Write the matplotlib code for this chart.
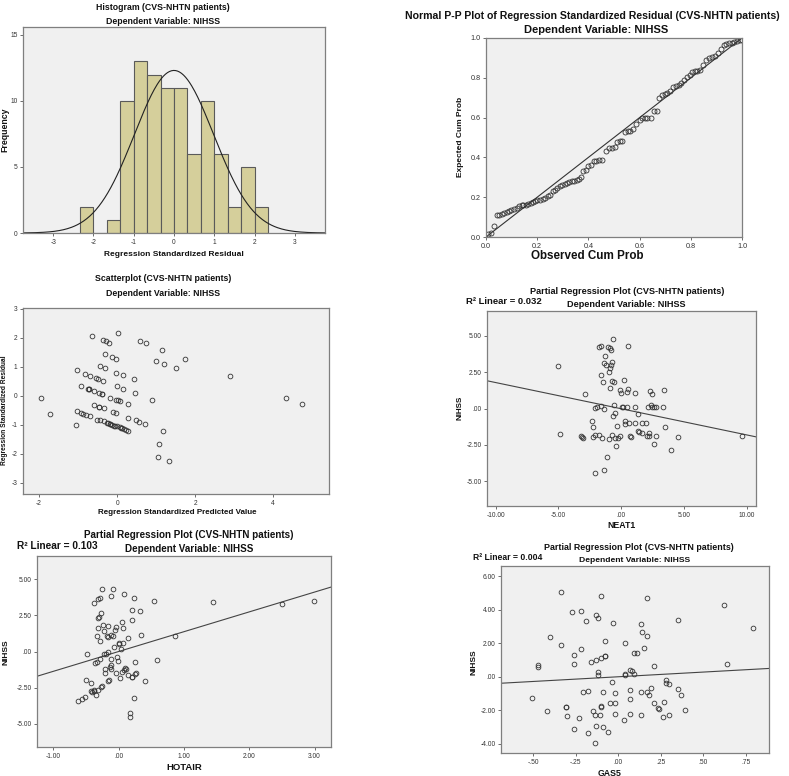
import numpy as np
import matplotlib
matplotlib.use('Agg')
import matplotlib.pyplot as plt

plt.rcParams['font.family'] = ['Liberation Sans', 'DejaVu Sans']
plt.rcParams['axes.unicode_minus'] = False

W, H = 789, 776

#  %%----------------------------------------- data
# histogram of standardized residuals
hist_edges = np.arange(-7, 8) / 3.0
hist_counts = [2, 0, 1, 10, 13, 12, 11, 11, 6, 10, 6, 2, 5, 2]
hist_mean, hist_sd, hist_n = 0.0, 0.983, 91

# normal P-P plot
pp_obs = [0.008, 0.018, 0.031, 0.042, 0.052, 0.061, 0.071, 0.081, 0.090, 0.099,
          0.110, 0.120, 0.129, 0.139, 0.146, 0.156, 0.165, 0.175, 0.184, 0.193,
          0.201, 0.210, 0.221, 0.230, 0.241, 0.250, 0.260, 0.269, 0.278, 0.288,
          0.298, 0.307, 0.316, 0.325, 0.335, 0.345, 0.354, 0.363, 0.371, 0.380,
          0.390, 0.400, 0.410, 0.421, 0.431, 0.442, 0.452, 0.468, 0.480, 0.492,
          0.502, 0.512, 0.522, 0.533, 0.544, 0.554, 0.563, 0.574, 0.587, 0.600,
          0.609, 0.620, 0.630, 0.643, 0.655, 0.668, 0.677, 0.688, 0.698, 0.708,
          0.720, 0.731, 0.742, 0.753, 0.763, 0.774, 0.784, 0.796, 0.805, 0.816,
          0.826, 0.837, 0.848, 0.861, 0.872, 0.882, 0.894, 0.907, 0.918, 0.928,
          0.939, 0.949, 0.959, 0.970, 0.980, 0.991, 0.999]
pp_exp = [0.015, 0.022, 0.054, 0.112, 0.112, 0.116, 0.121, 0.126, 0.129, 0.134,
          0.139, 0.146, 0.154, 0.159, 0.159, 0.162, 0.166, 0.171, 0.176, 0.179,
          0.184, 0.188, 0.191, 0.196, 0.204, 0.213, 0.229, 0.236, 0.245, 0.255,
          0.263, 0.268, 0.271, 0.275, 0.280, 0.280, 0.288, 0.293, 0.300, 0.333,
          0.335, 0.358, 0.363, 0.380, 0.384, 0.387, 0.389, 0.430, 0.447, 0.447,
          0.452, 0.477, 0.484, 0.484, 0.528, 0.531, 0.531, 0.543, 0.568, 0.590,
          0.598, 0.598, 0.598, 0.598, 0.632, 0.635, 0.698, 0.715, 0.719, 0.724,
          0.732, 0.754, 0.757, 0.765, 0.774, 0.791, 0.802, 0.812, 0.829, 0.832,
          0.836, 0.841, 0.863, 0.891, 0.899, 0.903, 0.908, 0.925, 0.946, 0.966,
          0.972, 0.973, 0.975, 0.978, 0.983, 0.988, 0.992]

# residuals vs predicted
sc_pred = [-1.96, -1.72, -1.06, -1.03, -1.03, -0.92, -0.92, -0.87, -0.82, -0.80,
           -0.74, -0.72, -0.70, -0.69, -0.63, -0.58, -0.58, -0.55, -0.51, -0.48,
           -0.47, -0.46, -0.43, -0.43, -0.39, -0.38, -0.36, -0.35, -0.34, -0.33,
           -0.31, -0.30, -0.29, -0.27, -0.20, -0.19, -0.19, -0.14, -0.14, -0.10,
           -0.08, -0.03, -0.03, -0.03, -0.02, 0.00, 0.01, 0.02, 0.03, 0.07,
           0.08, 0.12, 0.15, 0.16, 0.18, 0.27, 0.28, 0.29, 0.43, 0.46,
           0.48, 0.56, 0.60, 0.71, 0.73, 0.89, 0.99, 1.04, 1.08, 1.15,
           1.18, 1.21, 1.34, 1.50, 1.75, 2.90, 4.32, 4.75,
           -0.24, -0.17, -0.05, 0.10, 0.22, -0.72, -0.46]
sc_resid = [-0.06, -0.64, -0.99, 0.87, -0.54, 0.34, -0.61, -0.62, 0.75, -0.65,
            0.24, 0.23, 0.69, -0.71, 2.06, 0.17, -0.31, 0.61, -0.82, 0.58,
            0.10, -0.37, 1.01, -0.85, 0.05, 0.06, 1.91, 0.51, -0.88, -0.42,
            1.42, 0.94, 1.87, -0.93, 1.83, -0.06, -0.96, 1.32, -1.01, -0.56,
            -1.03, 1.27, 0.80, -0.59, -0.14, 0.32, -1.05, 2.17, -0.16, -1.07,
            -0.19, -1.11, 0.71, 0.24, -1.14, -1.21, -0.75, -0.30, 0.57, 0.08,
            -0.85, -0.90, 1.88, -0.97, 1.81, -0.14, 1.20, -2.09, -1.65, 1.59,
            -1.22, 1.09, -2.23, 0.94, 1.27, 0.67, -0.07, -0.30,
            -0.94, -0.98, -1.04, -1.10, -1.19, 0.25, -0.39]

# partial regression: NEAT1
neat1_x = [-5.00, -4.87, -3.17, -3.09, -3.01, -2.90, -2.29, -2.24, -2.21, -2.10,
           -2.05, -2.08, -1.89, -1.79, -1.73, -1.63, -1.57, -1.57, -1.52, -1.49,
           -1.41, -1.41, -1.36, -1.31, -1.23, -1.12, -1.04, -0.99, -0.96, -0.93,
           -0.91, -0.91, -0.85, -0.83, -0.77, -0.75, -0.75, -0.69, -0.69, -0.61,
           -0.56, -0.53, -0.51, -0.45, -0.32, -0.24, -0.11, -0.08, -0.03, 0.08,
           0.18, 0.26, 0.32, 0.34, 0.48, 0.50, 0.53, 0.56, 0.66, 0.72,
           0.77, 1.11, 1.14, 1.14, 1.35, 1.38, 1.46, 1.62, 1.67, 1.94,
           2.07, 2.10, 2.18, 2.23, 2.31, 2.36, 2.42, 2.42, 2.58, 2.63,
           2.74, 2.79, 3.35, 3.40, 3.51, 3.99, 4.55, 9.65]
neat1_y = [2.92, -1.75, -1.91, -1.95, -2.05, 1.03, -0.87, -1.24, -1.98, -1.82,
           0.05, -4.46, 0.07, -1.84, 4.21, 2.32, 4.32, 0.16, -2.00, 1.79,
           -0.02, -4.25, 3.10, 3.63, 2.97, -3.33, 4.25, -2.11, 2.53, 2.76,
           1.38, 4.18, 4.02, 2.97, 3.20, -1.82, 1.89, -0.53, 4.80, 0.25,
           1.82, -0.34, -2.00, -2.55, -1.17, -2.00, 1.26, -1.86, 1.10, 0.11,
           0.11, 1.95, -0.87, -1.06, 1.15, 0.11, 1.33, 4.30, -1.03, -1.91,
           -1.95, -0.97, 1.08, 0.11, -0.39, -1.56, -1.61, -0.99, -1.68, -1.03,
           -1.86, 0.11, -1.89, -1.68, 1.22, 0.23, 1.01, 0.11, 0.07, -2.41,
           0.07, -1.91, 0.11, 1.24, -1.26, -2.85, -1.95, -1.86]
neat1_fit = (-0.016, -0.180)   # intercept, slope

# partial regression: HOTAIR
hotair_x = [-0.63, -0.56, -0.52, -0.50, -0.48, -0.43, -0.42, -0.41, -0.38, -0.38,
            -0.37, -0.36, -0.34, -0.33, -0.33, -0.31, -0.31, -0.31, -0.31, -0.30,
            -0.29, -0.28, -0.28, -0.27, -0.27, -0.25, -0.25, -0.24, -0.23, -0.23,
            -0.21, -0.21, -0.19, -0.18, -0.17, -0.17, -0.17, -0.15, -0.16, -0.13,
            -0.12, -0.12, -0.12, -0.11, -0.11, -0.09, -0.08, -0.07, -0.06, -0.04,
            -0.03, -0.04, -0.01, 0.00, 0.01, 0.02, 0.03, 0.05, 0.05, 0.06,
            0.07, 0.08, 0.08, 0.10, 0.11, 0.14, 0.14, 0.17, 0.17, 0.20,
            0.21, 0.21, 0.21, 0.23, 0.23, 0.25, 0.25, 0.27, 0.32, 0.34,
            0.40, 0.54, 0.58, 0.86, 1.45, 2.50, 2.99]
hotair_y = [-3.46, -3.28, -3.19, -1.96, -0.14, -2.73, -2.19, -2.82, 3.39, -2.73,
            -2.66, -0.81, -3.00, 1.09, -0.74, 3.63, -2.68, 2.31, 1.66, 2.42,
            -0.51, 3.74, 0.74, 2.68, -2.49, 4.36, -2.38, 1.85, -0.18, 1.43,
            -1.22, -1.48, -0.14, 1.06, 1.80, 0.00, -2.03, -1.96, 1.02, -1.11,
            -0.55, 3.86, -0.92, 1.13, -1.20, 4.32, 1.11, 0.28, 1.48, -1.52,
            -0.35, 1.73, -0.65, 0.51, 0.58, -1.85, 0.16, 2.08, -1.39, 1.62,
            0.62, 4.00, -1.27, -1.15, -1.22, 0.92, -1.66, -4.25, -4.57, -1.80,
            2.17, 2.89, -1.80, 3.74, -3.21, -1.55, -0.76, -1.52, 2.82, 1.15,
            -2.06, 3.51, -0.58, 1.09, 3.46, 3.33, 3.51]
hotair_fit = (0.0, 1.376)

# partial regression: GAS5
gas5_x = [-0.51, -0.47, -0.47, -0.42, -0.40, -0.34, -0.34, -0.31, -0.31, -0.30,
          -0.27, -0.26, -0.26, -0.26, -0.23, -0.22, -0.22, -0.21, -0.19, -0.18,
          -0.18, -0.16, -0.15, -0.14, -0.13, -0.13, -0.13, -0.12, -0.12, -0.12,
          -0.11, -0.14, -0.10, -0.10, -0.10, -0.10, -0.09, -0.09, -0.08, -0.08,
          -0.08, -0.06, -0.05, -0.04, -0.03, -0.02, -0.02, -0.02, 0.03, 0.04,
          0.04, 0.04, 0.07, 0.07, 0.08, 0.07, 0.07, 0.09, 0.09, 0.11,
          0.13, 0.13, 0.13, 0.14, 0.15, 0.17, 0.17, 0.17, 0.18, 0.19,
          0.21, 0.21, 0.23, 0.24, 0.26, 0.27, 0.28, 0.28, 0.30, 0.30,
          0.35, 0.35, 0.37, 0.39, 0.62, 0.64, 0.79]
gas5_y = [-1.27, 0.71, 0.58, -2.06, 2.38, 5.06, 1.87, -1.77, -1.80, -2.36,
          3.87, 0.77, 1.31, -3.12, -2.44, 1.65, 3.95, -0.93, 3.33, -0.83,
          -3.35, 0.91, -2.04, -2.26, -2.92, 1.01, 3.71, 3.51, 0.30, 0.14,
          -2.30, -3.95, 4.80, 1.15, -1.81, -1.73, -0.93, -2.96, 1.25, 1.27,
          2.14, -3.31, -1.55, -0.30, 3.21, -0.99, -1.53, -2.20, -2.56, 0.14,
          0.16, 2.00, -0.79, 0.42, 0.32, -1.31, -2.20, 1.45, 0.16, 1.45,
          -0.91, -2.26, 3.15, 2.70, 1.73, 2.46, -0.89, 4.68, -1.11, -0.65,
          0.65, -1.53, -1.88, -1.90, -2.40, -1.47, -0.16, -0.34, -0.42, -2.26,
          -0.71, 3.37, -1.09, -1.98, 4.31, 0.75, 2.90]
gas5_fit = (0.006, 0.56)

#  %%----------------------------------------- helpers
fig = plt.figure(figsize=(W / 100, H / 100), dpi=100)
fig.patch.set_facecolor('white')


def panel(left, top, right, bottom):
    ax = fig.add_axes([left / W, 1 - bottom / H, (right - left) / W, (bottom - top) / H])
    ax.set_facecolor('#f0f0f0')
    for s in ax.spines.values():
        s.set_color('#7f7f7f')
        s.set_linewidth(0.9)
    ax.tick_params(direction='out', length=2.5, width=0.6, color='#555555',
                   labelsize=4.8, labelcolor='#333333', pad=1.5,
                   top=False, right=False)
    return ax


def label(x, y, s, size=6.3, ha='center', rot=0, bold=True):
    fig.text(x / W, 1 - y / H, s, ha=ha, va='center', rotation=rot,
             fontsize=size, fontweight='bold' if bold else 'normal', color='#111111')


def scatter(ax, x, y, ms=3.4):
    ax.plot(x, y, 'o', ms=ms, mfc='none', mec='#333333', mew=0.6, ls='none')


def fitline(ax, fit, xlim):
    xs = np.array(xlim)
    ax.plot(xs, fit[0] + fit[1] * xs, color='#444444', lw=0.8)


#  %%----------------------------------------- histogram
ax1 = panel(23, 27, 325, 233)
ax1.bar(hist_edges[:-1], hist_counts, width=np.diff(hist_edges), align='edge',
        color='#d5cf9b', edgecolor='#5a5a5a', linewidth=0.8)
xs = np.linspace(-3.75, 3.75, 300)
dens = hist_n * (1 / 3) / (np.sqrt(2 * np.pi) * hist_sd) * np.exp(-0.5 * ((xs - hist_mean) / hist_sd) ** 2)
ax1.plot(xs, dens, color='#222222', lw=0.8)
ax1.set_xlim(-3.75, 3.75)
ax1.set_ylim(0, 15.6)
ax1.set_xticks([-3, -2, -1, 0, 1, 2, 3])
ax1.set_yticks([0, 5, 10, 15])
label(163, 7, 'Histogram (CVS-NHTN patients)')
label(163, 21, 'Dependent Variable: NIHSS')
label(174, 254, 'Regression Standardized Residual', size=6.0)
label(5, 130, 'Frequency', rot=90)

#  %%----------------------------------------- P-P plot
ax2 = panel(486, 38, 742, 237)
ax2.plot([0, 1], [0, 1], color='#333333', lw=0.8)
scatter(ax2, pp_obs, pp_exp, ms=3.6)
ax2.set_xlim(0, 1)
ax2.set_ylim(0, 1)
ticks = [0, 0.2, 0.4, 0.6, 0.8, 1.0]
ax2.set_xticks(ticks, ['%.1f' % t for t in ticks])
ax2.set_yticks(ticks, ['%.1f' % t for t in ticks])
ax2.tick_params(labelsize=5.2)
label(592, 16, 'Normal P-P Plot of Regression Standardized Residual (CVS-NHTN patients)', size=7.6)
label(596, 30, 'Dependent Variable: NIHSS', size=8.0)
label(587, 256, 'Observed Cum Prob', size=8.4)
label(460, 137, 'Expected Cum Prob', size=6.0, rot=90)

#  %%----------------------------------------- residual scatter
ax3 = panel(23, 308, 329, 494)
scatter(ax3, sc_pred, sc_resid)
ax3.set_xlim(-2.41, 5.43)
ax3.set_ylim(-3.38, 3.02)
ax3.set_xticks([-2, 0, 2, 4])
ax3.set_yticks([-3, -2, -1, 0, 1, 2, 3])
label(163, 278, 'Scatterplot (CVS-NHTN patients)')
label(163, 293, 'Dependent Variable: NIHSS')
label(177, 512, 'Regression Standardized Predicted Value', size=5.8)
label(5, 410, 'Regression Standardized Residual', size=4.8, rot=90)

#  %%----------------------------------------- NEAT1
ax4 = panel(487, 311, 756, 506)
lim4 = (-10.7, 10.75)
fitline(ax4, neat1_fit, lim4)
scatter(ax4, neat1_x, neat1_y)
ax4.set_xlim(*lim4)
ax4.set_ylim(-6.71, 6.71)
ax4.set_xticks([-10, -5, 0, 5, 10], ['-10.00', '-5.00', '.00', '5.00', '10.00'])
ax4.set_yticks([-5, -2.5, 0, 2.5, 5], ['-5.00', '-2.50', '.00', '2.50', '5.00'])
label(627, 292, 'Partial Regression Plot (CVS-NHTN patients)', size=6.6)
label(626, 305, 'Dependent Variable: NIHSS', size=6.6)
label(466, 302, 'R² Linear = 0.032', size=6.8, ha='left')
label(460, 408, 'NIHSS', size=5.8, rot=90)
label(622, 525, 'NEAT1', size=6.3)

#  %%----------------------------------------- HOTAIR
ax5 = panel(37, 556, 331, 747)
lim5 = (-1.25, 3.25)
fitline(ax5, hotair_fit, lim5)
scatter(ax5, hotair_x, hotair_y)
ax5.set_xlim(*lim5)
ax5.set_ylim(-6.63, 6.63)
ax5.set_xticks([-1, 0, 1, 2, 3], ['-1.00', '.00', '1.00', '2.00', '3.00'])
ax5.set_yticks([-5, -2.5, 0, 2.5, 5], ['-5.00', '-2.50', '.00', '2.50', '5.00'])
label(189, 535, 'Partial Regression Plot (CVS-NHTN patients)', size=7.1)
label(189, 549, 'Dependent Variable: NIHSS', size=7.1)
label(17, 546, 'R² Linear = 0.103', size=7.3, ha='left')
label(6, 652, 'NIHSS', size=6.0, rot=90)
label(184, 767, 'HOTAIR', size=6.8)

#  %%----------------------------------------- GAS5
ax6 = panel(501, 566, 769, 753)
lim6 = (-0.69, 0.885)
fitline(ax6, gas5_fit, lim6)
scatter(ax6, gas5_x, gas5_y)
ax6.set_xlim(*lim6)
ax6.set_ylim(-4.54, 6.61)
ax6.set_xticks([-0.5, -0.25, 0, 0.25, 0.5, 0.75], ['-.50', '-.25', '.00', '.25', '.50', '.75'])
ax6.set_yticks([-4, -2, 0, 2, 4, 6], ['-4.00', '-2.00', '.00', '2.00', '4.00', '6.00'])
label(639, 547, 'Partial Regression Plot (CVS-NHTN patients)', size=6.4)
label(635, 561, 'Dependent Variable: NIHSS', size=6.1)
label(473, 557, 'R² Linear = 0.004', size=6.2, ha='left')
label(474, 662, 'NIHSS', size=6.0, rot=90)
label(610, 773, 'GAS5', size=6.3)

fig.savefig('out.png', dpi=100)
